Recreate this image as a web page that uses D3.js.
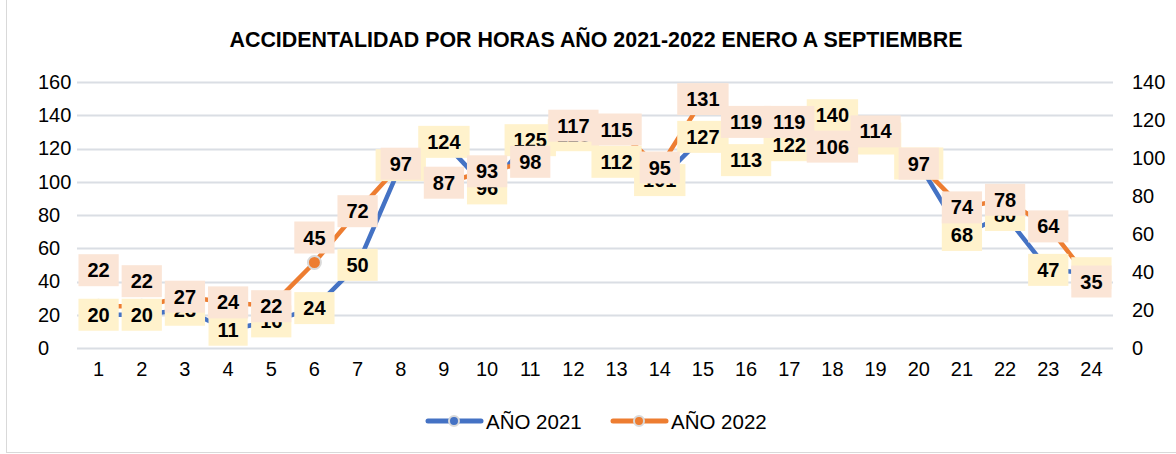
<!DOCTYPE html>
<html>
<head>
<meta charset="utf-8">
<script src="https://cdn.jsdelivr.net/npm/d3@7"></script>
<style>
  html, body { margin: 0; padding: 0; background: #ffffff; }
  svg { display: block; }
  text { font-family: "Liberation Sans", Arial, sans-serif; }
</style>
</head>
<body>
<svg id="chart" width="1176" height="454"></svg>
<script>
// Hours of the day (category axis)
const hours = ["1","2","3","4","5","6","7","8","9","10","11","12",
               "13","14","15","16","17","18","19","20","21","22","23","24"];

// Accidents per hour, January to September
const accidents2021 = [20, 20, 23, 11, 16, 24, 50, 110, 124, 96, 125, 128,
                       112, 101, 127, 113, 122, 140, 126, 111, 68, 80, 47, 45];
const accidents2022 = [22, 22, 27, 24, 22, 45, 72, 97, 87, 93, 98, 117,
                       115, 95, 131, 119, 119, 106, 114, 97, 74, 78, 64, 35];

// Axis ticks: 2021 on the left axis, 2022 on the right axis
const leftTicks  = [0, 20, 40, 60, 80, 100, 120, 140, 160];
const rightTicks = [0, 20, 40, 60, 80, 100, 120, 140];

const seriesNames = ["AÑO 2021", "AÑO 2022"];
const titleText = "ACCIDENTALIDAD POR HORAS AÑO 2021-2022 ENERO A SEPTIEMBRE";

// ---- layout ----
const W = 1176, H = 454;
const plot = { left: 77, right: 1113, top: 82, bottom: 348 };
const colors = { y2021: "#4472c4", y2022: "#ed7d31" };
const boxFill = { y2021: "#fff2cc", y2022: "#fbe5d6" };
// a few 2022 labels sit raised above their point
const lift2022 = { 0: -36, 1: -25, 5: -25 };

const svg = d3.select("#chart");

// outer chart frame (left and bottom edges show)
svg.append("rect")
  .attr("x", 6.5).attr("y", -2)
  .attr("width", W + 4).attr("height", 454.5)
  .attr("fill", "none").attr("stroke", "#d9d9d9").attr("stroke-width", 1);

const x = d3.scaleBand().domain(hours).range([plot.left, plot.right]);
const yL = d3.scaleLinear().domain([0, 160]).range([plot.bottom, plot.top]);
const yR = d3.scaleLinear().domain([0, 140]).range([plot.bottom, plot.top]);
const cx = h => x(h) + x.bandwidth() / 2;

// title
svg.append("text")
  .attr("x", 596).attr("y", 47)
  .attr("text-anchor", "middle")
  .attr("font-size", 21.4).attr("font-weight", "bold").attr("fill", "#000")
  .text(titleText);

// gridlines
svg.append("g").selectAll("line").data(leftTicks).join("line")
  .attr("x1", plot.left).attr("x2", plot.right)
  .attr("y1", d => Math.round(yL(d)) + 0.5).attr("y2", d => Math.round(yL(d)) + 0.5)
  .attr("stroke", "#dadee4").attr("stroke-width", 2);

const fontStack = "'Liberation Sans', Arial, sans-serif";

// left axis labels (left-aligned column)
const axisLeft = d3.axisLeft(yL).tickValues(leftTicks).tickSize(0).tickPadding(0);
const gL = svg.append("g").attr("transform", `translate(${38},0)`).call(axisLeft);
gL.select(".domain").remove();
gL.selectAll("text").attr("font-size", 20).attr("fill", "#000")
  .attr("font-family", fontStack).attr("text-anchor", "start");

// right axis labels
const axisRight = d3.axisRight(yR).tickValues(rightTicks).tickSize(0).tickPadding(0);
const gR = svg.append("g").attr("transform", `translate(${1132},0)`).call(axisRight);
gR.select(".domain").remove();
gR.selectAll("text").attr("font-size", 20).attr("fill", "#000")
  .attr("font-family", fontStack);

// category labels
const axisBottom = d3.axisBottom(x).tickSize(0).tickPadding(0);
const gB = svg.append("g").attr("transform", `translate(0,${362})`).call(axisBottom);
gB.select(".domain").remove();
gB.selectAll("text").attr("font-size", 20).attr("fill", "#000")
  .attr("font-family", fontStack);

// series definitions
const series = [
  { key: "y2021", values: accidents2021, y: yL },
  { key: "y2022", values: accidents2022, y: yR }
];

// lines
series.forEach(s => {
  const line = d3.line()
    .x((d, i) => cx(hours[i]))
    .y(d => s.y(d));
  svg.append("path")
    .datum(s.values)
    .attr("d", line)
    .attr("fill", "none")
    .attr("stroke", colors[s.key])
    .attr("stroke-width", 4.5)
    .attr("stroke-linejoin", "round");
});

// markers
series.forEach(s => {
  svg.append("g").selectAll("circle").data(s.values).join("circle")
    .attr("cx", (d, i) => cx(hours[i]))
    .attr("cy", d => s.y(d))
    .attr("r", 6.5)
    .attr("fill", colors[s.key])
    .attr("stroke", "#d9d9d9")
    .attr("stroke-width", 2);
});

// data labels in boxes
series.forEach(s => {
  const g = svg.append("g");
  s.values.forEach((v, i) => {
    const px = cx(hours[i]);
    const py = s.y(v) + (s.key === "y2022" ? (lift2022[i] || 0) : 0);
    const lg = g.append("g");
    const rect = lg.append("rect").attr("fill", boxFill[s.key]);
    const t = lg.append("text")
      .attr("x", px).attr("y", py + 7)
      .attr("text-anchor", "middle")
      .attr("font-size", 20).attr("font-weight", "bold").attr("fill", "#000")
      .text(v);
    const w = t.node().getComputedTextLength() + 18;
    rect.attr("x", px - w / 2).attr("y", py - 16)
      .attr("width", w).attr("height", 32);
  });
});

// legend
const legend = svg.append("g");
const legendItems = [
  { name: seriesNames[0], color: colors.y2021, x0: 426 },
  { name: seriesNames[1], color: colors.y2022, x0: 611 }
];
legendItems.forEach(it => {
  legend.append("line")
    .attr("x1", it.x0 + 2).attr("x2", it.x0 + 55)
    .attr("y1", 421).attr("y2", 421)
    .attr("stroke", it.color).attr("stroke-width", 5).attr("stroke-linecap", "round");
  legend.append("circle")
    .attr("cx", it.x0 + 28).attr("cy", 421).attr("r", 5)
    .attr("fill", it.color).attr("stroke", "#d9d9d9").attr("stroke-width", 2);
  legend.append("text")
    .attr("x", it.x0 + 60).attr("y", 428.5)
    .attr("font-size", 20.5).attr("fill", "#000")
    .text(it.name);
});
</script>
</body>
</html>
